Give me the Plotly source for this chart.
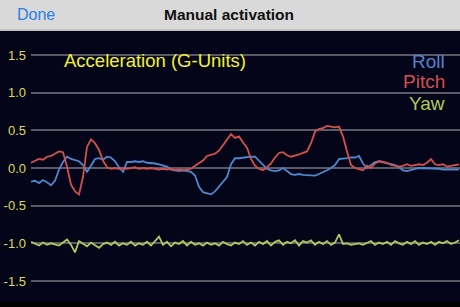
import plotly.graph_objects as go

# Sample index (one sample per step along the time axis)
roll = [-0.18, -0.17, -0.20, -0.16, -0.19, -0.23, -0.17, -0.02, 0.08, 0.15,
        0.12, 0.11, 0.09, 0.04, -0.05, 0.03, 0.12, 0.13, 0.11, 0.15,
        0.14, 0.09, 0.01, -0.05, 0.08, 0.08, 0.09, 0.08, 0.09, 0.07,
        0.07, 0.06, 0.05, 0.03, 0.02, -0.02, -0.03, -0.04, -0.03, -0.04,
        -0.05, -0.10, -0.25, -0.32, -0.34, -0.35, -0.31, -0.25, -0.19, -0.12,
        0.05, 0.13, 0.13, 0.14, 0.14, 0.15, 0.15, 0.10, 0.05, -0.01,
        -0.03, -0.04, -0.03, 0.00, -0.04, -0.08, -0.09, -0.08, -0.09, -0.09,
        -0.09, -0.10, -0.08, -0.06, -0.03, 0.00, 0.04, 0.12, 0.13, 0.13,
        0.14, 0.14, 0.16, 0.06, 0.00, 0.04, 0.08, 0.09, 0.08, 0.07,
        0.05, 0.04, 0.01, -0.03, -0.04, -0.02, -0.01, 0.00, 0.00, -0.01,
        0.00, -0.01, -0.01, -0.02, -0.02, -0.03, -0.02, -0.02]

pitch = [0.07, 0.09, 0.12, 0.11, 0.15, 0.16, 0.19, 0.22, 0.21, 0.02,
         -0.22, -0.31, -0.35, -0.12, 0.28, 0.38, 0.33, 0.24, 0.10, 0.01,
         -0.01, 0.00, -0.01, 0.00, -0.01, 0.00, 0.01, -0.01, 0.00, -0.01,
         0.00, -0.01, -0.02, -0.01, -0.02, -0.01, -0.03, -0.02, -0.03, -0.02,
         -0.01, 0.03, 0.07, 0.10, 0.16, 0.18, 0.19, 0.23, 0.30, 0.38,
         0.45, 0.40, 0.42, 0.34, 0.27, 0.12, 0.03, -0.01, -0.03, 0.01,
         0.06, 0.14, 0.20, 0.21, 0.17, 0.15, 0.16, 0.18, 0.20, 0.22,
         0.33, 0.48, 0.52, 0.53, 0.56, 0.55, 0.54, 0.55, 0.42, 0.22,
         0.04, 0.00, -0.02, -0.03, 0.03, 0.00, 0.06, 0.09, 0.08, 0.07,
         0.04, 0.03, 0.02, 0.03, 0.05, 0.03, 0.04, 0.05, 0.04, 0.07,
         0.12, 0.05, 0.04, 0.05, 0.02, 0.03, 0.04, 0.05]

yaw = [-0.98, -1.01, -1.03, -0.99, -1.02, -1.00, -1.02, -1.03, -0.99, -0.95,
       -1.02, -1.12, -0.97, -1.00, -1.04, -0.99, -1.03, -1.06, -1.01, -0.99,
       -1.02, -0.98, -1.03, -1.00, -1.02, -0.98, -1.03, -1.00, -1.02, -0.98,
       -1.03, -0.97, -0.91, -1.02, -0.98, -1.04, -0.99, -1.01, -0.97, -1.03,
       -0.98, -1.02, -1.00, -1.03, -0.99, -1.02, -1.00, -1.03, -0.98, -1.01,
       -1.03, -0.99, -1.01, -0.97, -1.02, -0.99, -1.03, -0.98, -1.01, -0.97,
       -1.03, -0.98, -0.96, -1.02, -0.98, -1.00, -0.96, -1.03, -0.97, -0.99,
       -0.96, -1.02, -0.98, -1.01, -0.97, -1.02, -0.99, -0.88, -1.01, -1.00,
       -1.02, -1.01, -1.00, -1.02, -0.99, -0.97, -1.02, -0.99, -1.01, -0.98,
       -1.02, -0.97, -1.00, -1.02, -0.98, -1.01, -0.97, -1.02, -0.99, -1.01,
       -0.98, -1.02, -0.98, -1.00, -0.97, -1.01, -0.99, -0.96]

series_names = ["Roll", "Pitch", "Yaw"]
series_colors = ["#4f86cc", "#d2504e", "#b2c85a"]
tick_vals = [1.5, 1.0, 0.5, 0.0, -0.5, -1.0, -1.5]
tick_text = ["1.5", "1.0", "0.5", "0.0", "-0.5", "-1.0", "-1.5"]

W, H = 460, 307
TOP = 31
LEFT = 31
plot_h = H - TOP
plot_w = W - LEFT
FONT = "Liberation Sans, Arial"

fig = go.Figure()
for name, vals, col in zip(series_names, [roll, pitch, yaw], series_colors):
    fig.add_trace(go.Scatter(x=list(range(len(vals))), y=vals, mode="lines",
                             line=dict(color=col, width=1.8), name=name,
                             showlegend=False))

n = len(roll)
fig.update_layout(
    width=W, height=H,
    margin=dict(l=LEFT, r=0, t=TOP, b=0),
    paper_bgcolor="#05051a", plot_bgcolor="#05051a",
    xaxis=dict(range=[0, n - 1 + 0.25], visible=False, showgrid=False),
    yaxis=dict(range=[-1.846, 1.82], tickvals=tick_vals, ticktext=tick_text,
               showgrid=True, gridcolor="#5a5a66", gridwidth=1.5,
               zeroline=False, ticks="", ticklabelstandoff=4,
               tickfont=dict(family=FONT, size=13, color="#dcdc55")),
    font=dict(family=FONT),
)

# Top navigation bar
fig.add_shape(type="rect", xref="paper", yref="paper",
              x0=-LEFT / plot_w, x1=1, y0=1, y1=1 + TOP / plot_h,
              fillcolor="#d9d9d9", line=dict(width=0), layer="above")
fig.add_shape(type="line", xref="paper", yref="paper",
              x0=-LEFT / plot_w, x1=1, y0=1 + 1 / plot_h, y1=1 + 1 / plot_h,
              line=dict(color="#a8a8a8", width=1), layer="above")
# Dark strip along the bottom edge
fig.add_shape(type="rect", xref="paper", yref="paper",
              x0=-LEFT / plot_w, x1=1, y0=0, y1=5 / plot_h,
              fillcolor="#000000", line=dict(width=0), layer="above")

fig.add_annotation(text="Done", xref="paper", yref="paper",
                   x=-LEFT / plot_w + 15 / plot_w, y=1 + 16 / plot_h, xanchor="left", yanchor="middle",
                   showarrow=False, font=dict(size=16, color="#2a80e8", family=FONT))
fig.add_annotation(text="<b>Manual activation</b>", xref="paper", yref="paper",
                   x=(229 - LEFT) / plot_w, y=1 + 16 / plot_h, xanchor="center", yanchor="middle",
                   showarrow=False, font=dict(size=15.5, color="#111111", family=FONT))

# Title
fig.add_annotation(text="Acceleration (G-Units)", xref="paper", yref="paper",
                   x=(62 - LEFT) / plot_w, y=1 - (60 - TOP) / plot_h, xanchor="left", yanchor="middle",
                   showarrow=False, font=dict(size=18.5, color="#f2f230", family=FONT))

# Legend labels
for i, (name, col) in enumerate(zip(series_names, series_colors)):
    fig.add_annotation(text=name, xref="paper", yref="paper",
                       x=(447 - LEFT) / plot_w, y=1 - (61 + 21 * i - TOP) / plot_h,
                       xanchor="right", yanchor="middle", showarrow=False,
                       font=dict(size=19, color=col, family=FONT))

fig.write_html("out.html")
